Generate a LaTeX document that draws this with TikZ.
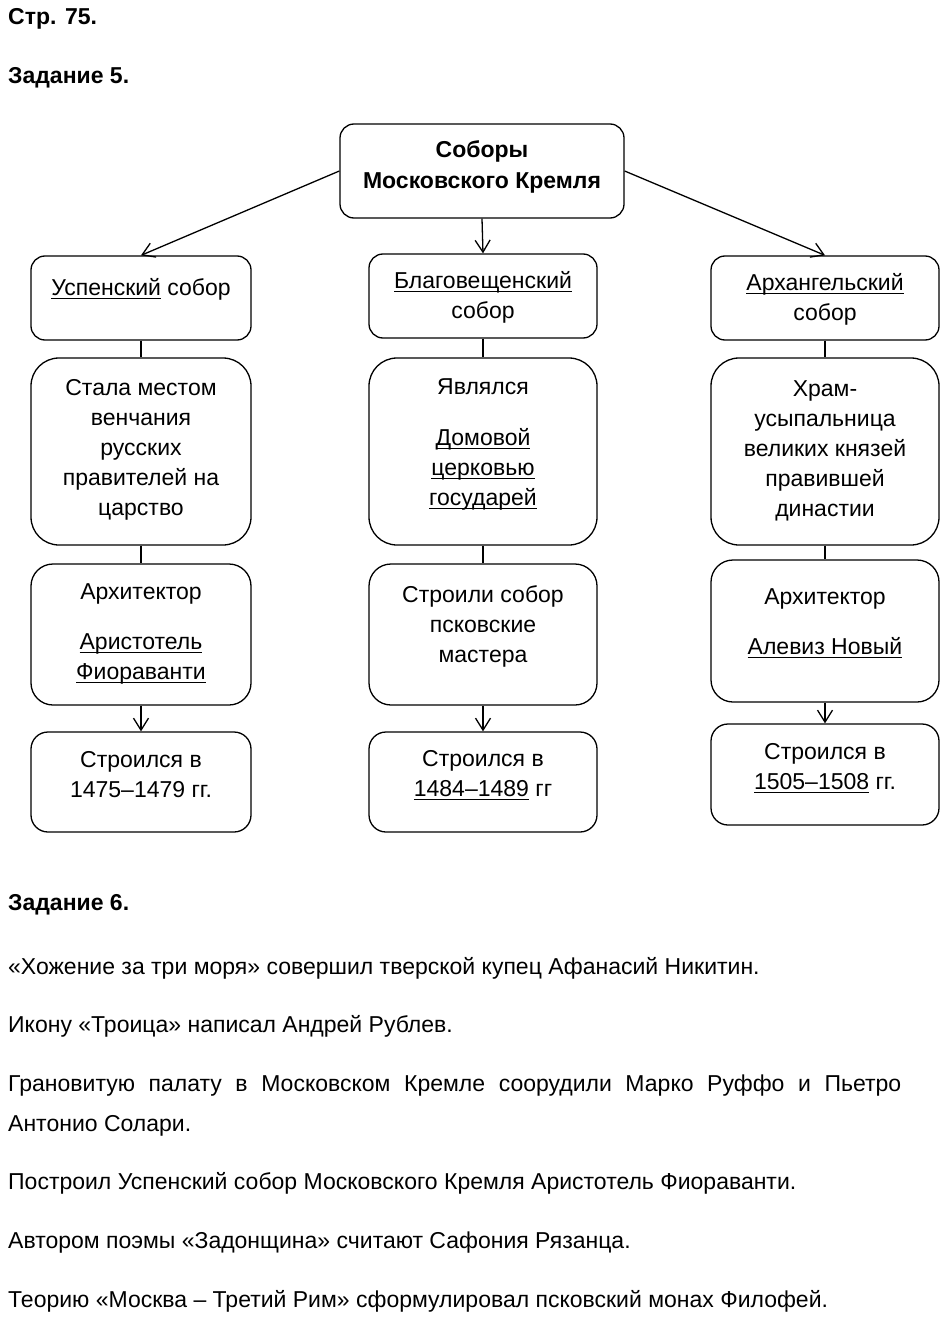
\documentclass[tikz,border=0pt]{standalone}
\usepackage{fontspec}
\setmainfont{Liberation Sans}
\newsavebox\ulbox
\newcommand\myul[1]{\sbox\ulbox{#1}\leavevmode\rlap{\rule[-3.8pt]{\wd\ulbox}{1.2pt}}\usebox\ulbox}
\usetikzlibrary{arrows.meta}
\begin{document}
\begin{tikzpicture}[x=1pt,y=-1pt,
  box/.style={draw, line width=1.3pt, rounded corners=14pt, inner sep=0pt},
  bigbox/.style={box, rounded corners=28pt},
  midbox/.style={box, rounded corners=22pt},
  lowbox/.style={box, rounded corners=17pt},
  txt/.style={align=center, font=\fontsize{23}{30}\selectfont, inner sep=0pt},
  para/.style={anchor=base west, font=\fontsize{23}{30}\selectfont, inner sep=0pt},
  head/.style={para, font=\fontsize{23}{30}\selectfont\bfseries},
  arr/.style={-{Straight Barb[length=12pt,width=15pt]}, line width=1.3pt},
  link/.style={line width=1.3pt}]
\useasboundingbox (0,0) rectangle (950,1321);

% headers
\node[head] (h1) at (8,25) {Стр. 75.};
\node[head] (h2) at (8,84) {Задание 5.};

% boxes
\node[box, minimum width=284pt, minimum height=94pt] (top) at (482,171) {};
\node[box, minimum width=220pt, minimum height=84pt] (L1) at (141,298) {};
\node[bigbox, minimum width=220pt, minimum height=187pt] (L2) at (141,451.5) {};
\node[midbox, minimum width=220pt, minimum height=141pt] (L3) at (141,634.5) {};
\node[lowbox, minimum width=220pt, minimum height=100pt] (L4) at (141,782) {};
\node[box, minimum width=228pt, minimum height=84pt] (M1) at (483,296) {};
\node[bigbox, minimum width=228pt, minimum height=187pt] (M2) at (483,451.5) {};
\node[midbox, minimum width=228pt, minimum height=141pt] (M3) at (483,634.5) {};
\node[lowbox, minimum width=228pt, minimum height=100pt] (M4) at (483,782) {};
\node[box, minimum width=228pt, minimum height=84pt] (R1) at (825,298) {};
\node[bigbox, minimum width=228pt, minimum height=187pt] (R2) at (825,451.5) {};
\node[midbox, minimum width=228pt, minimum height=142pt] (R3) at (825,631) {};
\node[lowbox, minimum width=228pt, minimum height=101pt] (R4) at (825,774.5) {};

% texts in boxes
\node[txt, font=\fontsize{23}{31}\selectfont\bfseries] (topt) at (482,167) {Соборы\\Московского Кремля};
\node[txt] (L1t) at (141,289) {\myul{Успенский} собор};
\node[txt] (L2t) at (141,450) {Стала местом\\венчания\\русских\\правителей на\\царство};
\node[txt] (L3t) at (141,634) {Архитектор\\[20pt]\myul{Аристотель}\\\myul{Фиораванти}};
\node[txt] (L4t) at (141,775) {Строился в\\1475–1479 гг.};
\node[txt] (M1t) at (483,297) {\myul{Благовещенский}\\собор};
\node[txt] (M2t) at (483,444.5) {Являлся\\[21pt]\myul{Домовой}\\\myul{церковью}\\\myul{государей}};
\node[txt] (M3t) at (483,626) {Строили собор\\псковские\\мастера};
\node[txt] (M4t) at (483,775) {Строился в\\\myul{1484–1489} гг};
\node[txt] (R1t) at (825,299) {\myul{Архангельский}\\собор};
\node[txt] (R2t) at (825,450.5) {Храм-\\усыпальница\\великих князей\\правившей\\династии};
\node[txt] (R3t) at (825,623) {Архитектор\\[20pt]\myul{Алевиз Новый}};
\node[txt] (R4t) at (825,768) {Строился в\\\myul{1505–1508} гг.};

% connectors
\draw[arr] (top.west) -- (L1.north);
\draw[arr] (top.south) -- (M1.north);
\draw[arr] (top.east) -- (R1.north);
\draw[link] (L1.south) -- (L2.north);
\draw[link] (L2.south) -- (L3.north);
\draw[arr] (L3.south) -- (L4.north);
\draw[link] (M1.south) -- (M2.north);
\draw[link] (M2.south) -- (M3.north);
\draw[arr] (M3.south) -- (M4.north);
\draw[link] (R1.south) -- (R2.north);
\draw[link] (R2.south) -- (R3.north);
\draw[arr] (R3.south) -- (R4.north);

% task 6
\node[head] (h3) at (8,910) {Задание 6.};
\node[para] (p1) at (8,974) {«Хожение за три моря» совершил тверской купец Афанасий Никитин.};
\node[para] (p2) at (8,1032) {Икону «Троица» написал Андрей Рублев.};
\node[para] (p3a) at (8,1091) {\makebox[893pt][s]{Грановитую палату в Московском Кремле соорудили Марко Руффо и Пьетро}};
\node[para] (p3b) at (8,1131) {Антонио Солари.};
\node[para] (p4) at (8,1189) {Построил Успенский собор Московского Кремля Аристотель Фиораванти.};
\node[para] (p5) at (8,1248) {Автором поэмы «Задонщина» считают Сафония Рязанца.};
\node[para] (p6) at (8,1307) {Теорию «Москва – Третий Рим» сформулировал псковский монах Филофей.};
\end{tikzpicture}
\end{document}
